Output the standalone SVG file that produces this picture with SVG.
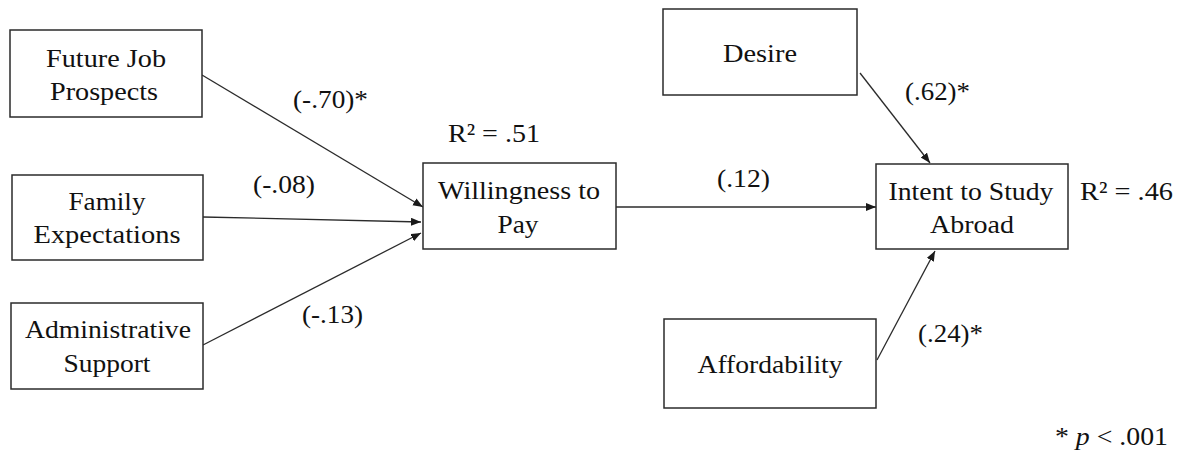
<svg xmlns="http://www.w3.org/2000/svg" width="1181" height="468" viewBox="0 0 1181 468" font-family="'Liberation Serif', 'Times New Roman', serif">
  <style>
    .box { fill: #ffffff; stroke: #2b2b2b; stroke-width: 1.5; }
    text { font-family: 'Liberation Serif', 'Times New Roman', serif; font-size: 26px; fill: #111111; }
    .lbl { text-anchor: middle; }
    .edge { stroke: #2b2b2b; stroke-width: 1.3; fill: none; marker-end: url(#arrow); }
  </style>
  <defs>
    <marker id="arrow" markerUnits="userSpaceOnUse" markerWidth="12" markerHeight="10" refX="10" refY="4" orient="auto">
      <path d="M0,0 L10,4 L0,8 Z" fill="#1a1a1a"/>
    </marker>
  </defs>
  <rect width="1181" height="468" fill="#ffffff"/>

  <!-- paths between constructs -->
  <g id="connectors">
    <line class="edge" x1="202" y1="75" x2="423" y2="207"/>
    <line class="edge" x1="203" y1="217" x2="421" y2="222"/>
    <line class="edge" x1="203" y1="345" x2="421" y2="233"/>
    <line class="edge" x1="616" y1="207" x2="876" y2="207"/>
    <line class="edge" x1="860" y1="73" x2="930" y2="163"/>
    <line class="edge" x1="877" y1="360" x2="935" y2="251"/>
  </g>

  <!-- path coefficients -->
  <g id="coefficients">
    <text class="coef" x="293" y="108" textLength="75" lengthAdjust="spacingAndGlyphs">(-.70)*</text>
    <text class="coef" x="253" y="193" textLength="62" lengthAdjust="spacingAndGlyphs">(-.08)</text>
    <text class="coef" x="302" y="323" textLength="61" lengthAdjust="spacingAndGlyphs">(-.13)</text>
    <text class="coef" x="717" y="187" textLength="53" lengthAdjust="spacingAndGlyphs">(.12)</text>
    <text class="coef" x="905" y="100" textLength="65" lengthAdjust="spacingAndGlyphs">(.62)*</text>
    <text class="coef" x="918" y="342" textLength="65" lengthAdjust="spacingAndGlyphs">(.24)*</text>
    <text class="coef" x="448" y="142" textLength="92" lengthAdjust="spacingAndGlyphs">R² = .51</text>
    <text class="coef" x="1080" y="200" textLength="93" lengthAdjust="spacingAndGlyphs">R² = .46</text>
  </g>

  <g id="node-future-job">
    <rect class="box" x="10" y="30" width="192" height="87"/>
    <text class="lbl" x="106" y="67" textLength="120" lengthAdjust="spacingAndGlyphs">Future Job</text>
    <text class="lbl" x="104" y="100" textLength="108" lengthAdjust="spacingAndGlyphs">Prospects</text>
  </g>

  <g id="node-family">
    <rect class="box" x="12" y="175" width="191" height="85"/>
    <text class="lbl" x="107" y="210" textLength="77" lengthAdjust="spacingAndGlyphs">Family</text>
    <text class="lbl" x="107" y="243" textLength="147" lengthAdjust="spacingAndGlyphs">Expectations</text>
  </g>

  <g id="node-admin">
    <rect class="box" x="11" y="303" width="192" height="86"/>
    <text class="lbl" x="108" y="338" textLength="166" lengthAdjust="spacingAndGlyphs">Administrative</text>
    <text class="lbl" x="107" y="372" textLength="87" lengthAdjust="spacingAndGlyphs">Support</text>
  </g>

  <g id="node-willingness">
    <rect class="box" x="423" y="163" width="193" height="86"/>
    <text class="lbl" x="519" y="199" textLength="162" lengthAdjust="spacingAndGlyphs">Willingness  to</text>
    <text class="lbl" x="518" y="233" textLength="41" lengthAdjust="spacingAndGlyphs">Pay</text>
  </g>

  <g id="node-desire">
    <rect class="box" x="663" y="9" width="194" height="86"/>
    <text class="lbl" x="760" y="62" textLength="74" lengthAdjust="spacingAndGlyphs">Desire</text>
  </g>

  <g id="node-intent">
    <rect class="box" x="876" y="164" width="192" height="85"/>
    <text class="lbl" x="971" y="200" textLength="165" lengthAdjust="spacingAndGlyphs">Intent to Study</text>
    <text class="lbl" x="972" y="233" textLength="84" lengthAdjust="spacingAndGlyphs">Abroad</text>
  </g>

  <g id="node-affordability">
    <rect class="box" x="664" y="319" width="212" height="89"/>
    <text class="lbl" x="770" y="373" textLength="145" lengthAdjust="spacingAndGlyphs">Affordability</text>
  </g>

  <!-- significance note -->
  <text x="1055" y="445" textLength="113" lengthAdjust="spacingAndGlyphs">* <tspan font-style="italic">p</tspan> &lt; .001</text>
</svg>
